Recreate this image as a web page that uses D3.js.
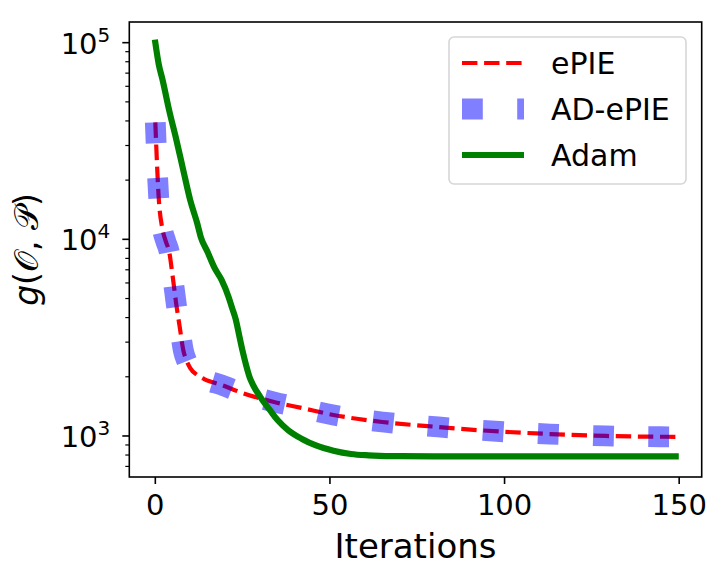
<!DOCTYPE html>
<html>
<head>
<meta charset="utf-8">
<script src="https://cdn.jsdelivr.net/npm/d3@7"></script>
<style>
  body { margin: 0; background: #fff; }
  svg { display: block; }
  text { font-family: "DejaVu Sans", sans-serif; fill: #000; }
</style>
</head>
<body>
<svg id="chart"></svg>
<script>
// values
const epieIter = [0, 1, 2, 3, 4, 5, 6, 7, 8, 9, 10, 12, 14, 19, 25, 34, 42, 51, 65, 81, 92, 113, 129, 149];
const epieVal = [39300, 15960, 11370, 9770, 8590, 6410, 4680, 3570, 2735, 2405, 2215, 2040, 1946, 1815, 1653, 1489, 1387, 1279, 1178, 1111, 1072, 1023, 1000, 990];

const adEpieIter = [0, 1, 2, 3, 4, 5, 6, 7, 8, 9, 10, 12, 14, 19, 25, 34, 42, 51, 65, 81, 92, 113, 129, 149];
const adEpieVal = [39300, 15960, 11370, 9770, 8590, 6410, 4680, 3570, 2735, 2405, 2215, 2040, 1946, 1815, 1653, 1489, 1387, 1279, 1178, 1111, 1072, 1023, 1000, 990];

const adamIter = [0, 1, 2, 4, 6, 8, 10, 12, 13, 15, 17, 19, 21, 22, 23, 24, 25, 26, 27, 28, 30, 33, 35, 38, 42, 46, 51, 56, 61, 68, 80, 100, 149];
const adamVal = [100000, 77300, 65600, 45000, 32200, 22500, 15800, 12050, 10300, 8590, 7130, 6200, 5080, 4470, 3930, 3260, 2700, 2290, 1990, 1815, 1585, 1340, 1205, 1072, 966, 895, 842, 810, 797, 790, 788, 788, 788];

const seriesNames = ["ePIE", "AD-ePIE", "Adam"];
const xTicks = [0, 50, 100, 150];
const yTickExp = [3, 4, 5];

const width = 724;
const height = 581;
const margin = { top: 22, right: 22.3, bottom: 104, left: 129.3 };

const svg = d3.select("#chart")
  .attr("width", width)
  .attr("height", height);

const zip = (xs, ys) => xs.map((v, i) => [v, ys[i]]);
const epie = zip(epieIter, epieVal);
const adEpie = zip(adEpieIter, adEpieVal);
const adam = zip(adamIter, adamVal);

// matplotlib style 5% margins
const allIter = epieIter.concat(adEpieIter, adamIter);
const xMin = d3.min(allIter), xMax = d3.max(allIter);
const xPad = (xMax - xMin) * 0.05;
const x = d3.scaleLinear()
  .domain([xMin - xPad, xMax + xPad])
  .range([margin.left, width - margin.right]);

const allLog = epieVal.concat(adEpieVal, adamVal).map(Math.log10);
const lMin = d3.min(allLog), lMax = d3.max(allLog);
const lPad = (lMax - lMin) * 0.05;
const y = d3.scaleLog()
  .domain([Math.pow(10, lMin - lPad), Math.pow(10, lMax + lPad)])
  .range([height - margin.bottom, margin.top]);

const line = d3.line()
  .x(d => x(d[0]))
  .y(d => y(d[1]))
  .curve(d3.curveMonotoneX);

// lines, in plotting order
svg.append("path")
  .datum(epie)
  .attr("d", line)
  .attr("fill", "none")
  .attr("stroke", "#ff0000")
  .attr("stroke-width", 4.2)
  .attr("stroke-dasharray", "15.4,6.7");

svg.append("path")
  .datum(adEpie)
  .attr("d", line)
  .attr("fill", "none")
  .attr("stroke", "#0000ff")
  .attr("stroke-opacity", 0.5)
  .attr("stroke-width", 20.8)
  .attr("stroke-dasharray", "20.8,34.4");

svg.append("path")
  .datum(adam)
  .attr("d", line)
  .attr("fill", "none")
  .attr("stroke", "#008000")
  .attr("stroke-width", 6.2)
  .attr("stroke-linecap", "square");

// axes frame
const x0 = margin.left, x1 = width - margin.right;
const y0 = height - margin.bottom, y1 = margin.top;
svg.append("rect")
  .attr("x", x0).attr("y", y1)
  .attr("width", x1 - x0).attr("height", y0 - y1)
  .attr("fill", "none")
  .attr("stroke", "#000")
  .attr("stroke-width", 1.6);

// x ticks
const xg = svg.append("g");
xTicks.forEach(t => {
  xg.append("line")
    .attr("x1", x(t)).attr("x2", x(t))
    .attr("y1", y0).attr("y2", y0 + 7)
    .attr("stroke", "#000").attr("stroke-width", 1.6);
  xg.append("text")
    .attr("x", x(t))
    .attr("y", y0 + 38)
    .attr("text-anchor", "middle")
    .attr("font-size", 29)
    .text(t);
});

// y ticks, log scale
const yg = svg.append("g");
const [dLo, dHi] = y.domain();
for (let e = Math.floor(Math.log10(dLo)); e <= Math.ceil(Math.log10(dHi)); e++) {
  for (let m = 2; m <= 9; m++) {
    const v = m * Math.pow(10, e);
    if (v < dLo || v > dHi) continue;
    yg.append("line")
      .attr("x1", x0 - 4).attr("x2", x0)
      .attr("y1", y(v)).attr("y2", y(v))
      .attr("stroke", "#000").attr("stroke-width", 1.2);
  }
}
yTickExp.forEach(e => {
  const v = Math.pow(10, e);
  yg.append("line")
    .attr("x1", x0 - 7).attr("x2", x0)
    .attr("y1", y(v)).attr("y2", y(v))
    .attr("stroke", "#000").attr("stroke-width", 1.6);
  const t = yg.append("text")
    .attr("x", x0 - 19)
    .attr("y", y(v) + 11)
    .attr("text-anchor", "end")
    .attr("font-size", 29);
  t.append("tspan").text("10");
  t.append("tspan")
    .attr("dy", -12)
    .attr("font-size", 20)
    .text(e);
});

// axis labels
svg.append("text")
  .attr("x", (x0 + x1) / 2)
  .attr("y", 558)
  .attr("text-anchor", "middle")
  .attr("font-size", 34)
  .text("Iterations");

const yl = svg.append("text")
  .attr("transform", `translate(38, ${(y0 + y1) / 2}) rotate(-90)`)
  .attr("text-anchor", "middle")
  .attr("font-size", 33);
yl.append("tspan").attr("font-style", "italic").text("g");
yl.append("tspan").text("(");
yl.append("tspan").text("𝒪");
yl.append("tspan").text(", ");
yl.append("tspan").text("𝒫");
yl.append("tspan").text(")");

// legend
const legend = svg.append("g");
legend.append("rect")
  .attr("x", 449).attr("y", 37)
  .attr("width", 237).attr("height", 147)
  .attr("rx", 5)
  .attr("fill", "#fff").attr("fill-opacity", 0.8)
  .attr("stroke", "#d6d6d6").attr("stroke-width", 1.6);

const legendStyles = [
  { color: "#ff0000", width: 4.2, dash: "15.4,6.7", opacity: 1, cap: "butt" },
  { color: "#0000ff", width: 20.8, dash: "20.8,34.4", opacity: 0.5, cap: "butt" },
  { color: "#008000", width: 6.2, dash: null, opacity: 1, cap: "butt" }
];
seriesNames.forEach((name, i) => {
  const ly = 63 + i * 46;
  const s = legendStyles[i];
  legend.append("line")
    .attr("x1", 462).attr("x2", 524)
    .attr("y1", ly).attr("y2", ly)
    .attr("stroke", s.color)
    .attr("stroke-width", s.width)
    .attr("stroke-opacity", s.opacity)
    .attr("stroke-linecap", s.cap)
    .attr("stroke-dasharray", s.dash);
  legend.append("text")
    .attr("x", 551)
    .attr("y", ly + 11)
    .attr("font-size", 30)
    .text(name);
});
</script>
</body>
</html>
